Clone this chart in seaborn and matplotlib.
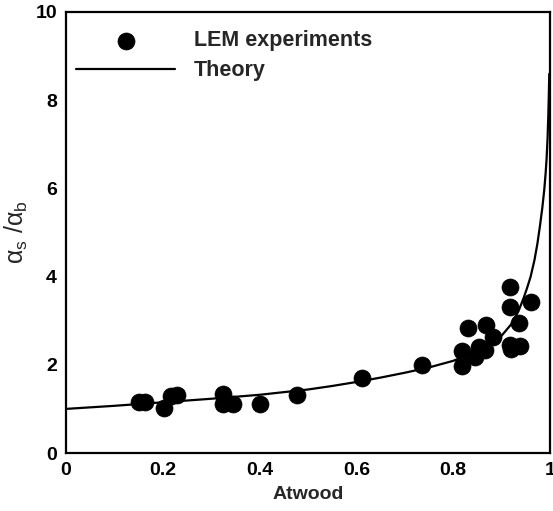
import matplotlib
matplotlib.use("Agg")
import matplotlib.pyplot as plt
import seaborn as sns
import pandas as pd

# LEM experiment measurements: Atwood number vs spike/bubble growth-rate ratio
lem_atwood = [0.150, 0.163, 0.203, 0.216, 0.230, 0.325, 0.325, 0.346, 0.400,
              0.478, 0.611, 0.735, 0.818, 0.818, 0.831, 0.845, 0.854, 0.866,
              0.868, 0.882, 0.917, 0.917, 0.917, 0.920, 0.936, 0.937, 0.960]
lem_ratio = [1.15, 1.15, 1.01, 1.30, 1.31, 1.34, 1.10, 1.10, 1.12,
             1.32, 1.71, 2.00, 1.97, 2.32, 2.84, 2.18, 2.41, 2.34,
             2.90, 2.63, 3.77, 3.32, 2.46, 2.36, 2.95, 2.43, 3.42]

# Theory curve
theory_atwood = [0.0, 0.1, 0.2, 0.3, 0.4, 0.5, 0.55, 0.6, 0.65, 0.7, 0.75,
                 0.8, 0.85, 0.88, 0.9, 0.92, 0.935, 0.945, 0.952, 0.96,
                 0.968, 0.974, 0.979, 0.984, 0.988, 0.991, 0.993, 0.995,
                 0.9965, 0.9975, 0.9985]
theory_ratio = [1.00, 1.07, 1.15, 1.23, 1.32, 1.44, 1.52, 1.61, 1.71, 1.82,
                1.94, 2.09, 2.30, 2.48, 2.66, 2.92, 3.22, 3.50, 3.72, 4.00,
                4.38, 4.75, 5.13, 5.55, 5.95, 6.35, 6.68, 7.15, 7.65, 8.10,
                8.60]

x_ticks = [0, 0.2, 0.4, 0.6, 0.8, 1]
x_tick_labels = ["0", "0.2", "0.4", "0.6", "0.8", "1"]
y_ticks = [0, 2, 4, 6, 8, 10]
y_tick_labels = ["0", "2", "4", "6", "8", "10"]

lem = pd.DataFrame({"Atwood": lem_atwood, "ratio": lem_ratio})
theory = pd.DataFrame({"Atwood": theory_atwood, "ratio": theory_ratio})

sns.set_style("white")
plt.rcParams["font.family"] = ["Liberation Sans", "DejaVu Sans"]
plt.rcParams["font.weight"] = "bold"
plt.rcParams["mathtext.fontset"] = "custom"
plt.rcParams["mathtext.rm"] = "Liberation Sans:weight=normal"
plt.rcParams["mathtext.it"] = "Liberation Sans:italic:weight=normal"

fig = plt.figure(figsize=(5.53, 5.11), dpi=100)
ax = fig.add_axes([66 / 553, 58 / 511, 484 / 553, 441 / 511])

sns.scatterplot(data=lem, x="Atwood", y="ratio", ax=ax, color="black",
                s=150, edgecolor="black", linewidth=0.5, label="LEM experiments",
                zorder=3)
sns.lineplot(data=theory, x="Atwood", y="ratio", ax=ax, color="black",
             linewidth=1.6, label="Theory", sort=False, zorder=2)

ax.set_xlim(0, 1)
ax.set_ylim(0, 10)
ax.set_xticks(x_ticks)
ax.set_xticklabels(x_tick_labels, fontweight="bold", fontsize=14)
ax.set_yticks(y_ticks)
ax.set_yticklabels(y_tick_labels, fontweight="bold", fontsize=14)

for spine in ax.spines.values():
    spine.set_visible(True)
    spine.set_color("black")
    spine.set_linewidth(1.6)

ax.tick_params(direction="in", length=6, width=1.4, colors="black", pad=6.5)

ax.set_xlabel("Atwood", fontsize=14, fontweight="bold", labelpad=5)
ax.set_ylabel(r"$\mathrm{α_s}$ /$\mathrm{α_b}$", fontsize=18,
              fontweight="normal", labelpad=4)

leg = ax.legend(loc="upper left", bbox_to_anchor=(0.0035, 0.978),
                frameon=False, handlelength=4.6, handletextpad=0.85,
                prop={"size": 15.5, "weight": "bold"}, borderaxespad=0.0,
                borderpad=0.4, labelspacing=0.42, markerscale=1.0)

fig.savefig("out.png", dpi=100)
